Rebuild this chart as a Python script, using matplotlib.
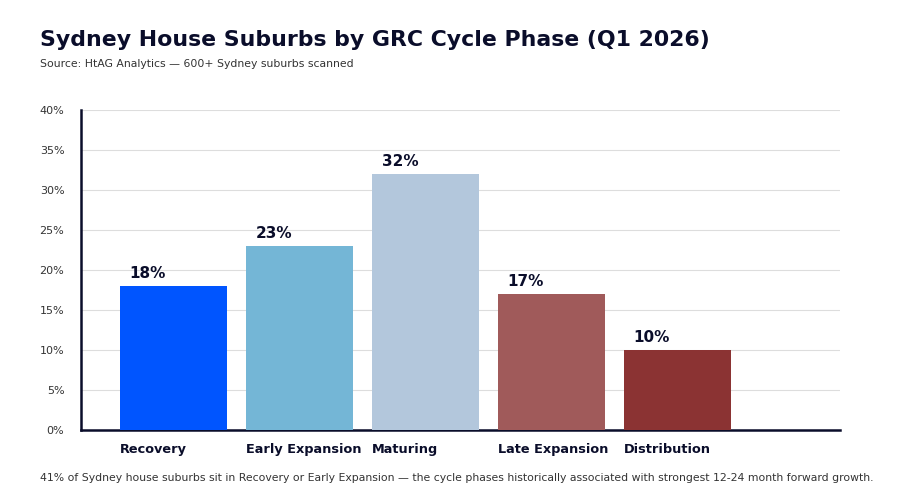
import matplotlib
matplotlib.use("Agg")
import matplotlib.pyplot as plt
import numpy as np
from matplotlib.ticker import PercentFormatter

# data
phases = ["Recovery", "Early Expansion", "Maturing", "Late Expansion", "Distribution"]
shares = [18, 23, 32, 17, 10]
colors = ["#0055ff", "#74b6d6", "#b3c7dc", "#a05a5a", "#8b3333"]
yticks = [0, 5, 10, 15, 20, 25, 30, 35, 40]

navy = "#0a0d2a"

fig = plt.figure(figsize=(9, 5), dpi=100)
ax = fig.add_axes([0.09, 0.14, 0.843, 0.64])

x = np.arange(len(phases))
width = 0.85
bars = ax.bar(x, shares, width=width, color=colors, zorder=3)

# value labels, left aligned inside the bar width
for xi, v in zip(x, shares):
    ax.annotate("{}%".format(v), (xi - width / 2, v), xytext=(7, 3.5),
                textcoords="offset points", ha="left", va="bottom",
                fontsize=11, fontweight="bold", color=navy)

ax.set_xlim(-0.734, 5.29)
ax.set_ylim(0, 40)
ax.set_yticks(yticks)
ax.yaxis.set_major_formatter(PercentFormatter(decimals=0))
ax.set_xticks(x - width / 2)
ax.set_xticklabels(phases, ha="left", fontsize=9.3, fontweight="bold", color=navy)
ax.tick_params(axis="x", length=0, pad=9.5)
ax.tick_params(axis="y", length=0, labelsize=8, labelcolor="#333333", pad=12)

ax.grid(axis="y", color="#dddddd", linewidth=0.8, zorder=0)
for s in ["top", "right"]:
    ax.spines[s].set_visible(False)
for s in ["left", "bottom"]:
    ax.spines[s].set_color(navy)
    ax.spines[s].set_linewidth(1.8)

fig.text(0.044, 0.92, "Sydney House Suburbs by GRC Cycle Phase (Q1 2026)",
         fontsize=15.8, fontweight="bold", color=navy, va="center")
fig.text(0.044, 0.872, "Source: HtAG Analytics \u2014 600+ Sydney suburbs scanned",
         fontsize=7.85, color="#333333", va="center")
fig.text(0.044, 0.044,
         "41% of Sydney house suburbs sit in Recovery or Early Expansion \u2014 the cycle phases "
         "historically associated with strongest 12-24 month forward growth.",
         fontsize=7.85, color="#333333", va="center")

fig.savefig("out.png", dpi=100)
